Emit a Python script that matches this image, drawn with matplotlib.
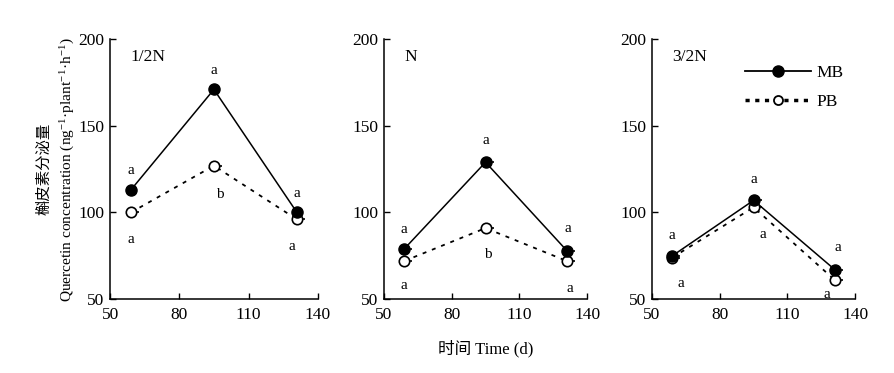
import numpy as np
import matplotlib.pyplot as plt
from matplotlib.path import Path

plt.rcParams['font.family'] = ['Liberation Serif', 'Noto Sans CJK SC']
plt.rcParams['mathtext.fontset'] = 'stix'

# ---- data ----
days = [59, 95, 131]
panels = ['1/2N', 'N', '3/2N']
mb = [[113, 171, 100],
      [79, 129, 78],
      [75, 107, 67]]
pb = [[100, 127, 96],
      [72, 91, 72],
      [74, 103, 61]]
mb_letters = [['a', 'a', 'a'], ['a', 'a', 'a'], ['a', 'a', 'a']]
pb_letters = [['a', 'b', 'a'], ['a', 'b', 'a'], ['a', 'a', 'a']]
xticks = [50, 80, 110, 140]
yticks = [50, 100, 150, 200]

# letter offsets in points (layout only)
mb_off = [[(0, 9), (0, 9), (0, 9)],
          [(0, 9), (0, 11), (1, 11)],
          [(0, 10), (0, 10), (2, 11)]]
pb_off = [[(0, -15), (4, -16), (-4, -15)],
          [(0, -13), (2, -14), (2, -15)],
          [(6, -14), (7, -15), (-6, -6)]]
mb_stub = [False, True, True]

# half error-bar stub: a short dash to the right of each point
stub = Path([(0, 0), (1, 0)], [Path.MOVETO, Path.LINETO])

fig = plt.figure(figsize=(8.95, 3.73), dpi=100)
lefts = [0.123, 0.429, 0.7285]
widths = [0.232, 0.227, 0.227]

for i in range(3):
    ax = fig.add_axes([lefts[i], 0.198, widths[i], 0.697])
    ax.plot(days, pb[i], color='black', lw=1.3, ls=(0, (2.2, 3.3)), zorder=2)
    ax.plot(days, mb[i], color='black', lw=1.1, zorder=3)
    ax.plot(days, pb[i], ls='none', marker=stub, ms=11.5, mec='black', mew=1.2, zorder=4)
    if mb_stub[i]:
        ax.plot(days, mb[i], ls='none', marker=stub, ms=11.5, mec='black', mew=1.2, zorder=4)
    ax.plot(days, pb[i], ls='none', marker='o', ms=7.5, mfc='white', mec='black', mew=1.2, zorder=5)
    ax.plot(days, mb[i], ls='none', marker='o', ms=8, mfc='black', mec='black', zorder=6)

    for j in range(3):
        ax.annotate(mb_letters[i][j], (days[j], mb[i][j]), xytext=mb_off[i][j],
                    textcoords='offset points', ha='center', va='bottom', fontsize=11)
        ax.annotate(pb_letters[i][j], (days[j], pb[i][j]), xytext=pb_off[i][j],
                    textcoords='offset points', ha='center', va='top', fontsize=11)

    ax.text(0.1, 0.93, panels[i], transform=ax.transAxes, fontsize=12.5, va='center')

    ax.set_xlim(50, 140)
    ax.set_ylim(50, 200)
    ax.set_xticks(xticks)
    ax.set_yticks(yticks)
    ax.tick_params(direction='in', length=4, width=1, labelsize=12.5, pad=6)
    ax.tick_params(axis='y', pad=4)
    ax.spines['top'].set_visible(False)
    ax.spines['right'].set_visible(False)
    for s in ['left', 'bottom']:
        ax.spines[s].set_linewidth(1.1)

    if i == 0:
        ax.set_ylabel('槲皮素分泌量\nQuercetin concentration (ng$^{\\mathregular{-1}}$·plant$^{\\mathregular{-1}}$·h$^{\\mathregular{-1}}$)',
                      fontsize=11.1, linespacing=1.4, labelpad=2)
    if i == 1:
        ax.set_xlabel('时间 Time (d)', fontsize=12, labelpad=12)
    if i == 2:
        ax.plot([], [], color='black', lw=1.3, marker='o', ms=8, mfc='black', label='MB')
        ax.plot([], [], color='black', lw=2.5, ls=(0, (1.2, 1.6)), marker='o', ms=6.5,
                mfc='white', mew=1.3, label='PB')
        ax.legend(loc='upper right', bbox_to_anchor=(1.02, 0.96), frameon=False, fontsize=12.5,
                  handlelength=3.8, handletextpad=0.3, labelspacing=0.7)

fig.savefig('out.png', dpi=100)
